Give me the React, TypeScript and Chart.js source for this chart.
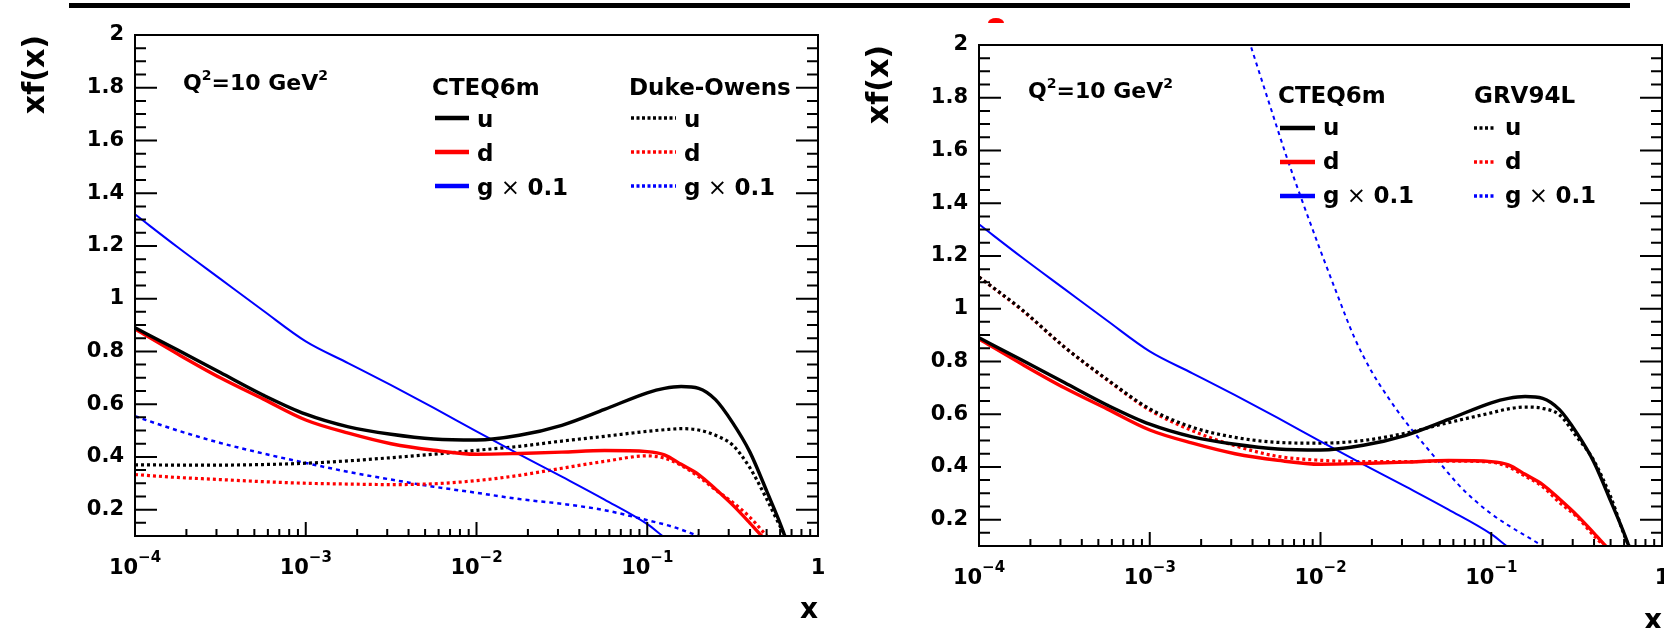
import React, { useEffect, useRef } from "react";
import { Chart, registerables } from "chart.js";

Chart.register(...registerables);

const FONT = "'DejaVu Sans', 'Liberation Sans', Arial, sans-serif";

// ---------- axes ----------
const X_MIN = 0.0001;
const X_MAX = 1;
const Y_MIN = 0.1;
const Y_MAX = 2;
const X_TICKS = [0.0001, 0.001, 0.01, 0.1, 1];
const X_TICK_BASES = ["10", "10", "10", "10", "1"];
const X_TICK_EXPS = ["−4", "−3", "−2", "−1", ""];
const X_MINOR_MULT = [2, 3, 4, 5, 6, 7, 8, 9];
const Y_TICKS = [0.2, 0.4, 0.6, 0.8, 1, 1.2, 1.4, 1.6, 1.8, 2];
const Y_MINOR_STEP = 0.05;

// ---------- CTEQ6m (both panels) ----------
const CTEQ_U_X = [0.0001, 0.000178, 0.000316, 0.000562, 0.001, 0.00178, 0.00316, 0.00562, 0.01, 0.0178, 0.0316, 0.0562, 0.1, 0.126, 0.158, 0.2, 0.251, 0.316, 0.398, 0.501, 0.631, 0.638];
const CTEQ_U_Y = [0.89, 0.805, 0.72, 0.635, 0.562, 0.514, 0.486, 0.468, 0.464, 0.482, 0.52, 0.58, 0.643, 0.66, 0.667, 0.66, 0.617, 0.53, 0.42, 0.27, 0.11, 0.1];

const CTEQ_D_X = [0.0001, 0.000178, 0.000316, 0.000562, 0.001, 0.00178, 0.00316, 0.00562, 0.01, 0.0178, 0.0316, 0.0562, 0.1, 0.126, 0.158, 0.2, 0.251, 0.316, 0.398, 0.468];
const CTEQ_D_Y = [0.885, 0.79, 0.7, 0.62, 0.54, 0.49, 0.45, 0.425, 0.41, 0.413, 0.418, 0.424, 0.42, 0.408, 0.372, 0.333, 0.278, 0.218, 0.15, 0.1];

const CTEQ_G_X = [0.0001, 0.000178, 0.000316, 0.000562, 0.001, 0.00178, 0.00316, 0.00562, 0.01, 0.0178, 0.0316, 0.0562, 0.1, 0.123];
const CTEQ_G_Y = [1.32, 1.195, 1.075, 0.955, 0.838, 0.755, 0.672, 0.586, 0.497, 0.41, 0.325, 0.238, 0.145, 0.1];

// ---------- Duke-Owens (left panel) ----------
const DUKE_U_X = [0.0001, 0.000178, 0.000316, 0.000562, 0.001, 0.00178, 0.00316, 0.00562, 0.01, 0.0178, 0.0316, 0.0562, 0.1, 0.126, 0.158, 0.2, 0.251, 0.316, 0.398, 0.501, 0.631, 0.646];
const DUKE_U_Y = [0.37, 0.369, 0.369, 0.371, 0.376, 0.385, 0.397, 0.41, 0.425, 0.44, 0.46, 0.478, 0.497, 0.503, 0.507, 0.502, 0.482, 0.445, 0.36, 0.24, 0.11, 0.1];

const DUKE_D_X = [0.0001, 0.000178, 0.000316, 0.000562, 0.001, 0.00178, 0.00316, 0.00562, 0.01, 0.0178, 0.0316, 0.0562, 0.1, 0.126, 0.158, 0.2, 0.251, 0.316, 0.398, 0.501];
const DUKE_D_Y = [0.333, 0.322, 0.314, 0.306, 0.3, 0.297, 0.295, 0.298, 0.31, 0.33, 0.357, 0.383, 0.404, 0.395, 0.368, 0.325, 0.275, 0.228, 0.172, 0.1];

const DUKE_G_X = [0.0001, 0.000178, 0.000316, 0.000562, 0.001, 0.00178, 0.00316, 0.00562, 0.01, 0.0178, 0.0316, 0.0562, 0.1, 0.141, 0.2];
const DUKE_G_Y = [0.554, 0.5, 0.453, 0.413, 0.377, 0.343, 0.314, 0.287, 0.264, 0.24, 0.222, 0.198, 0.16, 0.135, 0.1];

// ---------- GRV94L (right panel) ----------
const GRV_U_X = [0.0001, 0.000178, 0.000316, 0.000562, 0.001, 0.00178, 0.00316, 0.00562, 0.01, 0.0178, 0.0316, 0.0562, 0.1, 0.126, 0.158, 0.2, 0.251, 0.316, 0.398, 0.501, 0.631, 0.65];
const GRV_U_Y = [1.12, 0.997, 0.855, 0.732, 0.62, 0.55, 0.512, 0.493, 0.49, 0.5, 0.528, 0.568, 0.605, 0.62, 0.627, 0.622, 0.597, 0.515, 0.425, 0.286, 0.11, 0.1];

const GRV_D_X = [0.0001, 0.000178, 0.000316, 0.000562, 0.001, 0.00178, 0.00316, 0.00562, 0.01, 0.0178, 0.0316, 0.0562, 0.1, 0.126, 0.158, 0.2, 0.251, 0.316, 0.398, 0.457];
const GRV_D_Y = [1.12, 0.995, 0.855, 0.73, 0.615, 0.537, 0.48, 0.44, 0.425, 0.42, 0.42, 0.422, 0.418, 0.4, 0.365, 0.325, 0.265, 0.212, 0.14, 0.1];

const GRV_G_X = [0.0038, 0.005, 0.0063, 0.0079, 0.01, 0.0126, 0.0158, 0.02, 0.0251, 0.0316, 0.0398, 0.0501, 0.0631, 0.0794, 0.1, 0.126, 0.158, 0.2];
const GRV_G_Y = [2.02, 1.78, 1.58, 1.4, 1.22, 1.05, 0.89, 0.76, 0.66, 0.57, 0.49, 0.414, 0.338, 0.275, 0.222, 0.178, 0.14, 0.1];

// ---------- styles ----------
const BLACK = "#000000";
const RED = "#ff0000";
const BLUE = "#0000ff";
const SOLID: number[] = [];
const DOTS_UD = [3, 3];
const DOTS_G = [4, 4];

type Spec = { label: string; xs: number[]; ys: number[]; color: string; width: number; dash: number[] };

const CTEQ_SERIES: Spec[] = [
  { label: "CTEQ6m u", xs: CTEQ_U_X, ys: CTEQ_U_Y, color: BLACK, width: 3.4, dash: SOLID },
  { label: "CTEQ6m d", xs: CTEQ_D_X, ys: CTEQ_D_Y, color: RED, width: 3.4, dash: SOLID },
  { label: "CTEQ6m g x 0.1", xs: CTEQ_G_X, ys: CTEQ_G_Y, color: BLUE, width: 2, dash: SOLID },
];
const DUKE_SERIES: Spec[] = [
  { label: "Duke-Owens u", xs: DUKE_U_X, ys: DUKE_U_Y, color: BLACK, width: 3.2, dash: DOTS_UD },
  { label: "Duke-Owens d", xs: DUKE_D_X, ys: DUKE_D_Y, color: RED, width: 3.2, dash: DOTS_UD },
  { label: "Duke-Owens g x 0.1", xs: DUKE_G_X, ys: DUKE_G_Y, color: BLUE, width: 2.5, dash: DOTS_G },
];
const GRV_SERIES: Spec[] = [
  { label: "GRV94L u", xs: GRV_U_X, ys: GRV_U_Y, color: BLACK, width: 3.2, dash: DOTS_UD },
  { label: "GRV94L d", xs: GRV_D_X, ys: GRV_D_Y, color: RED, width: 3.2, dash: DOTS_UD },
  { label: "GRV94L g x 0.1", xs: GRV_G_X, ys: GRV_G_Y, color: BLUE, width: 2, dash: DOTS_G },
];

const LEGEND_NAMES = ["u", "d", "g"];

// frame, inward ROOT-style ticks and x labels, positioned by the chart's own scales
const frameTicks = {
  id: "frameTicks",
  afterDraw(chart: any) {
    const { ctx, chartArea } = chart;
    const { left, right, top, bottom } = chartArea;
    const xs = chart.scales.x;
    const ys = chart.scales.y;
    ctx.save();
    ctx.strokeStyle = "#000";
    ctx.lineWidth = 2;
    ctx.beginPath();
    for (let d = 0; d < X_TICKS.length; d++) {
      const base = X_TICKS[d];
      const px = xs.getPixelForValue(base);
      ctx.moveTo(px, bottom);
      ctx.lineTo(px, bottom - 14);
      if (d < X_TICKS.length - 1) {
        for (const m of X_MINOR_MULT) {
          const p = xs.getPixelForValue(base * m);
          ctx.moveTo(p, bottom);
          ctx.lineTo(p, bottom - 7);
        }
      }
    }
    const n = Math.round(Y_MAX / Y_MINOR_STEP);
    for (let i = 0; i <= n; i++) {
      const v = i * Y_MINOR_STEP;
      if (v < Y_MIN - 1e-9 || v > Y_MAX + 1e-9) continue;
      const len = i % 4 === 0 ? 22 : 11;
      const py = ys.getPixelForValue(v);
      ctx.moveTo(left, py);
      ctx.lineTo(left + len, py);
      ctx.moveTo(right, py);
      ctx.lineTo(right - len, py);
    }
    ctx.stroke();
    ctx.strokeRect(left, top, right - left, bottom - top);

    // x tick labels: base with raised exponent
    ctx.fillStyle = "#000";
    ctx.textBaseline = "alphabetic";
    ctx.textAlign = "left";
    const baseFont = `bold 21px ${FONT}`;
    const expFont = `bold 15px ${FONT}`;
    for (let d = 0; d < X_TICKS.length; d++) {
      const px = xs.getPixelForValue(X_TICKS[d]);
      ctx.font = baseFont;
      const wb = ctx.measureText(X_TICK_BASES[d]).width;
      ctx.font = expFont;
      const we = X_TICK_EXPS[d] ? ctx.measureText(X_TICK_EXPS[d]).width : 0;
      const x0 = px - (wb + we) / 2;
      ctx.font = baseFont;
      ctx.fillText(X_TICK_BASES[d], x0, bottom + 38);
      if (we) {
        ctx.font = expFont;
        ctx.fillText(X_TICK_EXPS[d], x0 + wb, bottom + 26);
      }
    }
    ctx.restore();
  },
};

type Area = { left: number; right: number; top: number; bottom: number };

function Panel(props: {
  series: Spec[];
  x: number;
  width: number;
  height: number;
  area: Area;
  yTitlePad: number;
  xTitlePad: number;
}) {
  const ref = useRef<HTMLCanvasElement>(null);
  const { series, x, width, height, area, yTitlePad, xTitlePad } = props;
  useEffect(() => {
    const canvas = ref.current;
    if (!canvas) return;
    const chart = new Chart(canvas, {
      type: "line",
      data: {
        datasets: series.map((s) => ({
          label: s.label,
          data: s.xs.map((xv, i) => ({ x: xv, y: s.ys[i] })),
          borderColor: s.color,
          backgroundColor: s.color,
          borderWidth: s.width,
          borderDash: s.dash,
          pointRadius: 0,
          fill: false,
          cubicInterpolationMode: "monotone",
        })),
      },
      options: {
        animation: false,
        responsive: false,
        maintainAspectRatio: false,
        events: [],
        layout: { padding: { top: area.top, right: width - area.right, left: 0, bottom: 0 } },
        plugins: { legend: { display: false }, tooltip: { enabled: false } },
        scales: {
          x: {
            type: "logarithmic",
            min: X_MIN,
            max: X_MAX,
            grid: { display: false, drawTicks: false },
            border: { display: false },
            afterBuildTicks: (s: any) => {
              s.ticks = X_TICKS.map((v) => ({ value: v }));
            },
            afterFit: (s: any) => {
              s.height = height - area.bottom;
            },
            ticks: { display: false },
            title: {
              display: true,
              text: "x",
              align: "end",
              color: "#000",
              font: { family: FONT, size: 28, weight: "bold" },
              padding: { top: 0, bottom: xTitlePad },
            },
          },
          y: {
            type: "linear",
            min: Y_MIN,
            max: Y_MAX,
            grid: { display: false, drawTicks: false },
            border: { display: false },
            afterBuildTicks: (s: any) => {
              s.ticks = Y_TICKS.map((v) => ({ value: v }));
            },
            afterFit: (s: any) => {
              s.width = area.left;
            },
            ticks: {
              padding: 11,
              color: "#000",
              font: { family: FONT, size: 21, weight: "bold" },
              callback: (v: any) => String(Number(Number(v).toFixed(1))),
            },
            title: {
              display: true,
              text: "xf(x)",
              align: "end",
              color: "#000",
              font: { family: FONT, size: 30, weight: "bold" },
              padding: { top: yTitlePad, bottom: 0 },
            },
          },
        },
      } as any,
      plugins: [frameTicks],
    });
    return () => chart.destroy();
  }, []);
  return (
    <canvas
      ref={ref}
      width={width}
      height={height}
      style={{ position: "absolute", left: x, top: 0, width, height, display: "block" }}
    />
  );
}

function LegendColumn(props: {
  title: string;
  series: Spec[];
  tx: number;
  titleY: number;
  sx0: number;
  sx1: number;
  textX: number;
  rowLineY: number[];
  rowTextY: number[];
  dotted: boolean;
}) {
  const { title, series, tx, titleY, sx0, sx1, textX, rowLineY, rowTextY, dotted } = props;
  return (
    <g>
      <text x={tx} y={titleY} fontFamily={FONT} fontWeight="bold" fontSize={23} fill="#000">
        {title}
      </text>
      {series.map((s, i) => (
        <g key={i}>
          <line
            x1={sx0}
            x2={sx1}
            y1={rowLineY[i]}
            y2={rowLineY[i]}
            stroke={s.color}
            strokeWidth={dotted ? 3.5 : 4.5}
            strokeDasharray={dotted ? "3 2.5" : undefined}
          />
          <text x={textX} y={rowTextY[i]} fontFamily={FONT} fontWeight="bold" fontSize={23} fill="#000">
            {LEGEND_NAMES[i]}
            {i === 2 ? (
              <>
                <tspan fontWeight="normal"> × </tspan>0.1
              </>
            ) : null}
          </text>
        </g>
      ))}
    </g>
  );
}

function Q2(props: { x: number; y: number }) {
  return (
    <text x={props.x} y={props.y} fontFamily={FONT} fontWeight="bold" fontSize={22} fill="#000">
      Q<tspan dy={-10} fontSize={14}>2</tspan>
      <tspan dy={10}>=10 GeV</tspan>
      <tspan dy={-10} fontSize={14}>2</tspan>
    </text>
  );
}

export default function App() {
  return (
    <div
      style={{
        position: "absolute",
        left: 0,
        top: 0,
        width: 1664,
        height: 628,
        overflow: "hidden",
        background: "#fff",
      }}
    >
      <Panel
        series={[...CTEQ_SERIES, ...DUKE_SERIES]}
        x={0}
        width={832}
        height={628}
        area={{ left: 135, right: 818, top: 35, bottom: 536 }}
        yTitlePad={18}
        xTitlePad={0}
      />
      <Panel
        series={[...CTEQ_SERIES, ...GRV_SERIES]}
        x={832}
        width={880}
        height={640}
        area={{ left: 147, right: 830, top: 45, bottom: 546 }}
        yTitlePad={30}
        xTitlePad={1}
      />
      <svg
        width={1664}
        height={628}
        style={{ position: "absolute", left: 0, top: 0, pointerEvents: "none" }}
      >
        <rect x={69} y={3} width={1561} height={5} fill="#000" />
        <path d="M988,23 A8,5 0 0 1 1004,23 Z" fill="#ff0000" />
        <Q2 x={183} y={90} />
        <LegendColumn
          title="CTEQ6m"
          series={CTEQ_SERIES}
          tx={432}
          titleY={95}
          sx0={435}
          sx1={469}
          textX={477}
          rowLineY={[118, 152, 186]}
          rowTextY={[127, 161, 195]}
          dotted={false}
        />
        <LegendColumn
          title="Duke-Owens"
          series={DUKE_SERIES}
          tx={629}
          titleY={95}
          sx0={631}
          sx1={676}
          textX={684}
          rowLineY={[118, 152, 186]}
          rowTextY={[127, 161, 195]}
          dotted={true}
        />
        <Q2 x={1028} y={98} />
        <LegendColumn
          title="CTEQ6m"
          series={CTEQ_SERIES}
          tx={1278}
          titleY={103}
          sx0={1280}
          sx1={1315}
          textX={1323}
          rowLineY={[128, 162, 196]}
          rowTextY={[135, 169, 203]}
          dotted={false}
        />
        <LegendColumn
          title="GRV94L"
          series={GRV_SERIES}
          tx={1474}
          titleY={103}
          sx0={1474}
          sx1={1495}
          textX={1505}
          rowLineY={[128, 162, 196]}
          rowTextY={[135, 169, 203]}
          dotted={true}
        />
      </svg>
    </div>
  );
}
